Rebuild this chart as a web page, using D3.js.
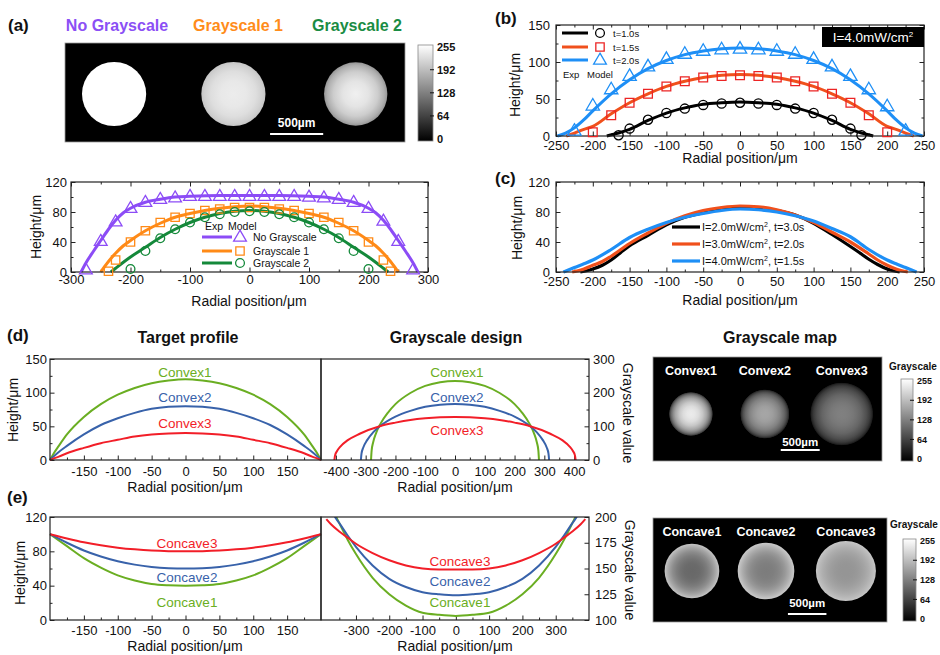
<!DOCTYPE html>
<html>
<head>
<meta charset="utf-8">
<script src="https://cdn.jsdelivr.net/npm/d3@7"></script>
<style>
  body { margin: 0; background: #fff; }
</style>
</head>
<body>
<div id="chart"></div>
<script>
// ---------- (a) measured profiles ----------
const noGrayExpX = [-275,-250,-225,-200,-175,-150,-125,-100,-75,-50,-25,0,25,50,75,100,125,150,175,200,225,250,275];
const noGrayExp = [3,41,67,85,93,97,99,101,101,101,101,101,101,101,101,100,99,97,93,85,68,41,3];
const noGrayModelX = [-283,-275,-262,-250,-237,-225,-212,-200,-175,-150,-125,-100,-50,0,50,100,125,150,175,200,212,225,237,250,262,275,283];
const noGrayModel = [0,12,28,42,57,69,79,85,93,97,100,101,102,102,102,101,100,97,93,85,79,69,57,42,28,12,0];
const gray1ExpX = [-237,-225,-200,-175,-150,-125,-100,-75,-50,-25,0,25,50,75,100,125,150,175,200,225,237];
const gray1Exp = [1,16,40,55,66,73,78,82,84,86,86,86,84,82,78,73,66,55,40,16,1];
const gray1ModelX = [-250,-237,-225,-212,-200,-175,-150,-125,-100,-75,-50,-25,0,25,50,75,100,125,150,175,200,212,225,237,250];
const gray1Model = [0,14,25,35,42,55,65,73,78,82,85,87,88,87,85,82,78,73,65,55,42,35,25,14,0];
const gray2ExpX = [-200,-175,-150,-125,-100,-75,-50,-25,0,25,50,75,100,125,150,175,200];
const gray2Exp = [4,28,45,57,66,73,77,80,81,80,77,73,66,57,45,28,4];
const gray2ModelX = [-233,-225,-212,-200,-175,-150,-125,-100,-75,-50,-25,0,25,50,75,100,125,150,175,200,212,225,233];
const gray2Model = [0,5,13,20,33,46,57,66,73,78,81,82,81,78,73,66,57,46,33,20,13,5,0];
const aXTicks = [-300,-200,-100,0,100,200,300];
const aYTicks = [0,40,80,120];

// (a) grayscale images
const aMapTitles = ['No Grayscale', 'Grayscale 1', 'Grayscale 2'];
const aMapCenterUm = [462, 1585, 2736];
const aMapRadiusUm = [302, 302, 298];
const aMapProfilePos = [0, 0.4, 0.7, 0.9, 1];
const aMapProfileGray = [
  [255,255,255,255,255],
  [236,232,222,208,198],
  [240,228,205,175,150]
];

// ---------- (b) exposure time ----------
const t10ExpX = [-165,-150,-125,-100,-75,-50,-25,0,25,50,75,100,125,150,165];
const t10Exp = [1,10,22,31,37,42,44,45,44,42,37,31,22,10,1];
const t10ModelX = [-181,-165,-150,-125,-100,-75,-50,-25,0,25,50,75,100,125,150,165,181];
const t10Model = [0,4,9,21,31,38,43,45,46,45,43,38,31,21,9,4,0];
const t15ExpX = [-200,-175,-150,-125,-100,-75,-50,-25,0,25,50,75,100,125,150,175,200];
const t15Exp = [5,28,45,57,67,74,79,81,82,81,79,74,67,57,45,28,5];
const t15ModelX = [-236,-225,-212,-200,-175,-150,-125,-100,-75,-50,-25,0,25,50,75,100,125,150,175,200,212,225,236];
const t15Model = [0,4,9,13,30,45,57,67,74,79,82,83,82,79,74,67,57,45,30,13,9,4,0];
const t20ExpX = [-225,-200,-175,-150,-125,-100,-75,-50,-25,0,25,50,75,100,125,150,175,200,225];
const t20Exp = [7,41,63,81,94,104,111,115,117,118,117,115,111,104,94,81,63,40,7];
const t20ModelX = [-248,-237,-225,-212,-200,-175,-150,-125,-100,-75,-50,-25,0,25,50,75,100,125,150,175,200,212,225,237,248];
const t20Model = [0,4,11,22,34,57,76,91,102,110,115,118,119,118,115,110,102,91,76,57,34,22,11,4,0];
const bXTicks = [-250,-200,-150,-100,-50,0,50,100,150,200,250];
const bYTicks = [0,50,100,150];

// ---------- (c) intensity / time ----------
const i2X = [-217,-200,-187,-175,-162,-150,-125,-100,-75,-50,-25,0,25,50,75,100,125,150,162,175,187,200,217];
const i2Y = [0,4,9,16,26,35,49,63,73,79,84,86,85,82,76,65,50,34,26,17,10,4,0];
const i3X = [-228,-212,-200,-187,-175,-150,-125,-100,-75,-50,-25,0,25,50,75,100,125,150,175,187,200,212,228];
const i3Y = [0,4,9,14,21,38,52,65,75,82,86,88,87,83,76,66,53,40,24,16,9,4,0];
const i4X = [-240,-225,-212,-200,-175,-150,-125,-100,-75,-50,-25,0,25,50,75,100,125,150,175,200,212,225,240];
const i4Y = [0,6,11,16,30,46,57,66,73,78,82,84,83,80,75,68,58,47,30,16,11,6,0];
const cYTicks = [0,40,80,120];

// ---------- (d) convex ----------
const targetX = [-200,-195,-187,-175,-150,-125,-100,-75,-50,-25,0,25,50,75,100,125,150,175,187,195,200];
const convex1 = [0,9,21,38,64,83,97,107,114,118,120,118,114,107,97,83,64,38,21,9,0];
const convex2 = [0,5,12,21,38,52,62,70,76,79,80,79,76,70,62,52,38,21,12,5,0];
const convex3 = [0,2,5,10,18,25,30,35,38,39.5,40,39.5,38,35,30,25,18,10,5,2,0];
const design1X = [-282,-280,-275,-265,-250,-225,-200,-150,-100,-50,0,50,100,150,200,225,250,265,275,280,282];
const design1 = [0,28,52,80,108,141,166,199,220,231,235,231,220,199,166,141,108,80,52,28,0];
const design2X = [-316,-314,-308,-295,-275,-250,-200,-150,-100,-50,0,50,100,150,200,250,275,295,308,314,316];
const design2 = [0,19,37,59,82,102,129,146,158,164,166,164,158,146,129,102,82,59,37,19,0];
const design3X = [-405,-403,-396,-385,-360,-320,-250,-200,-150,-100,-50,0,50,100,150,200,250,320,360,385,396,403,405];
const design3 = [0,13,27,40,59,78,101,111,119,124,127,128,127,124,119,111,101,78,59,40,27,13,0];
const convexNames = ['Convex1', 'Convex2', 'Convex3'];
const convexMapCenterUm = [487, 1436, 2423];

// ---------- (e) concave ----------
const concaveX = [-200,-175,-150,-125,-100,-75,-50,-25,0,25,50,75,100,125,150,175,200];
const concave1 = [100,86,72,61,52,46,42,40.5,40,40.5,42,46,52,61,72,86,100];
const concave2 = [100,90,81,74,68.5,64.5,61.8,60.4,60,60.4,61.8,64.5,68.5,74,81,90,100];
const concave3 = [100,95,90.5,87,84.3,82.3,80.9,80.2,80,80.2,80.9,82.3,84.3,87,90.5,95,100];
const cDesign1X = [-368,-359,-350,-325,-300,-250,-200,-150,-100,-50,0,50,100,150,200,250,300,325,350,359,368];
const cDesign1 = [206,200,194,178,164,141,125,114,107,105,104,105,107,114,125,141,164,178,194,200,206];
const cDesign2X = [-368,-359,-350,-325,-300,-250,-200,-150,-100,-50,0,50,100,150,200,250,300,325,350,359,368];
const cDesign2 = [203,198,194,182,171,153,140,132,127,125,124,125,127,132,140,153,171,182,194,198,203];
const cDesign3X = [-389,-375,-350,-325,-300,-250,-200,-150,-100,-50,0,50,100,150,200,250,300,325,350,375,389];
const cDesign3 = [198,193,186,180,174,165,158,153,150,149,149,149,150,153,158,165,174,180,186,193,198];
const concaveNames = ['Concave1', 'Concave2', 'Concave3'];
const concaveMapCenterUm = [506, 1468, 2506];
const concaveMapRadiusUm = [355, 368, 390];

const profileXTicks = [-150,-100,-50,0,50,100,150];
const cbTicks = [0,64,128,192,255];

// ---------- drawing ----------
const FONT = '"Liberation Sans", Arial, Helvetica, sans-serif';
const C = {
  purple: '#8c4cf6', orange: '#ff8a17', green: '#14893a',
  black: '#000', redLine: '#f0501c', redMark: '#ec2424', blue: '#1e8ff6',
  dGreen: '#6aae22', dBlue: '#3862aa', dRed: '#f21e28'
};

const svg = d3.select('#chart').append('svg')
  .attr('width', 940).attr('height', 655)
  .attr('font-family', FONT);
const defs = svg.append('defs');
const grayColor = d3.scaleLinear().domain([0, 255]).range(['#000', '#fff']).clamp(true);

function label(x, y, s, o = {}) {
  const t = svg.append('text').attr('x', x).attr('y', y).text(s)
    .attr('font-size', o.size || 14)
    .attr('fill', o.color || '#111')
    .attr('text-anchor', o.anchor || 'middle')
    .attr('font-weight', o.weight || 'normal');
  if (o.rotate) t.attr('transform', `rotate(${o.rotate},${x},${y})`);
  return t;
}

function axisLayer(g, gen, tx, ty, fs) {
  const a = g.append('g').attr('transform', `translate(${tx},${ty})`).call(gen);
  a.attr('font-family', FONT).attr('font-size', fs);
  a.select('.domain').remove();
  a.selectAll('.tick line').attr('stroke', '#222').attr('stroke-width', 1);
  a.selectAll('.tick text').attr('fill', '#111');
  return a;
}

// framed plot with inward ticks
function drawPlot(o) {
  const x = d3.scaleLinear().domain(o.xDomain).range([o.left, o.right]);
  const y = d3.scaleLinear().domain(o.yDomain).range([o.bottom, o.top]);
  const g = svg.append('g');
  const fmt = d => String(d);
  const specs = [
    ['bottom', d3.axisBottom, x, 0, o.bottom],
    ['top', d3.axisTop, x, 0, o.top],
    ['left', d3.axisLeft, y, o.left, 0],
    ['right', d3.axisRight, y, o.right, 0]
  ];
  specs.forEach(([side, gen, sc, tx, ty]) => {
    if (!o.sides.includes(side)) return;
    const isX = side === 'bottom' || side === 'top';
    const minor = isX ? o.xMinor : o.yMinor;
    const major = isX ? o.xMajor : o.yMajor;
    const labeled = isX ? side === 'bottom' : side === (o.yLabelSide || 'left');
    if (minor) axisLayer(g, gen(sc).tickValues(minor).tickFormat('').tickSizeInner(-2.5).tickSizeOuter(0), tx, ty, 13);
    axisLayer(g, gen(sc).tickValues(major).tickFormat(labeled ? fmt : '')
      .tickSizeInner(-4.5).tickSizeOuter(0).tickPadding(isX ? o.xPad : o.yPad), tx, ty, 13);
  });
  const layer = g.append('g');
  if (o.clip) {
    defs.append('clipPath').attr('id', o.clip).append('rect')
      .attr('x', o.left).attr('y', o.top).attr('width', o.right - o.left).attr('height', o.bottom - o.top);
    layer.attr('clip-path', `url(#${o.clip})`);
  }
  g.append('rect').attr('x', o.left).attr('y', o.top)
    .attr('width', o.right - o.left).attr('height', o.bottom - o.top)
    .attr('fill', 'none').attr('stroke', '#222').attr('stroke-width', 1.2);
  return { x, y, g: layer, top: g };
}

function drawLine(p, xs, ys, color, width) {
  p.g.append('path').datum(d3.zip(xs, ys))
    .attr('fill', 'none').attr('stroke', color).attr('stroke-width', width)
    .attr('stroke-linejoin', 'round')
    .attr('d', d3.line().x(d => p.x(d[0])).y(d => p.y(d[1])).curve(d3.curveMonotoneX));
}

function shapePath(shape, cx, cy, s) {
  if (shape === 'tri') return `M${cx},${cy - s * 0.62}L${cx + s * 0.58},${cy + s * 0.38}L${cx - s * 0.58},${cy + s * 0.38}Z`;
  if (shape === 'sq') return `M${cx - s * 0.38},${cy - s * 0.38}h${s * 0.76}v${s * 0.76}h${-s * 0.76}Z`;
  const pth = d3.path(); pth.arc(cx, cy, s * 0.4, 0, 2 * Math.PI); return pth.toString();
}

function drawMarkers(p, xs, ys, shape, color, s) {
  p.top.append('g').selectAll('path').data(d3.zip(xs, ys)).join('path')
    .attr('d', d => shapePath(shape, p.x(d[0]), p.y(d[1]), s))
    .attr('fill', 'none').attr('stroke', color).attr('stroke-width', 1.3);
}

function legendMarker(shape, cx, cy, s, color) {
  svg.append('path').attr('d', shapePath(shape, cx, cy, s))
    .attr('fill', 'none').attr('stroke', color).attr('stroke-width', 1.3);
}
function legendLine(x1, x2, y, color, w) {
  svg.append('line').attr('x1', x1).attr('x2', x2).attr('y1', y).attr('y2', y)
    .attr('stroke', color).attr('stroke-width', w);
}

// vertical grayscale colorbar
const cbGrad = defs.append('linearGradient').attr('id', 'cbGrad')
  .attr('x1', 0).attr('y1', 1).attr('x2', 0).attr('y2', 0);
cbGrad.append('stop').attr('offset', 0).attr('stop-color', grayColor(0));
cbGrad.append('stop').attr('offset', 1).attr('stop-color', grayColor(255));

function colorbar(x, yTop, w, yBot, inset, fs, labelX) {
  svg.append('rect').attr('x', x).attr('y', yTop).attr('width', w).attr('height', yBot - yTop)
    .attr('fill', 'url(#cbGrad)').attr('stroke', '#888').attr('stroke-width', 0.8);
  const s = d3.scaleLinear().domain([0, 255]).range([yBot - inset, yTop + inset]);
  svg.append('g').selectAll('line').data(cbTicks.slice(1, 4)).join('line')
    .attr('x1', x + w - 3).attr('x2', x + w + 1).attr('y1', s).attr('y2', s)
    .attr('stroke', '#111').attr('stroke-width', 1);
  svg.append('g').selectAll('text').data(cbTicks).join('text')
    .attr('x', labelX).attr('y', s).attr('dy', '0.35em')
    .attr('font-size', fs).attr('font-weight', 'bold').attr('fill', '#111')
    .text(d => d);
}

function radialGrad(id, pos, vals) {
  const gr = defs.append('radialGradient').attr('id', id);
  pos.forEach((p, i) => gr.append('stop').attr('offset', Math.min(1, p)).attr('stop-color', grayColor(vals[i])));
}

// ======== (a) ========
label(8, 31, '(a)', { size: 17, weight: 'bold', anchor: 'start' });
const aTitleColors = ['#8b4ff5', '#ff8c1a', '#1a8c44'];
const aTitleX = [117, 238, 357];
aMapTitles.forEach((t, i) => label(aTitleX[i], 31, t, { size: 16, weight: 'bold', color: aTitleColors[i] }));

const aImg = { left: 65, right: 405, top: 43, bottom: 142 };
svg.append('rect').attr('x', aImg.left).attr('y', aImg.top)
  .attr('width', aImg.right - aImg.left).attr('height', aImg.bottom - aImg.top)
  .attr('fill', '#000').attr('stroke', '#999').attr('stroke-width', 0.8);
const aUm = d3.scaleLinear().domain([0, 3200]).range([aImg.left, aImg.right]);
const aPx = aUm(1) - aUm(0);
aMapCenterUm.forEach((c, i) => {
  radialGrad('aG' + i, aMapProfilePos, aMapProfileGray[i]);
  svg.append('circle').attr('cx', aUm(c)).attr('cy', 94).attr('r', aMapRadiusUm[i] * aPx)
    .attr('fill', `url(#aG${i})`);
});
svg.append('line').attr('x1', aUm(1930)).attr('x2', aUm(2430)).attr('y1', 134).attr('y2', 134)
  .attr('stroke', '#fff').attr('stroke-width', 2.2);
label(aUm(2180), 127, '500µm', { size: 12, weight: 'bold', color: '#fff' });
colorbar(418, 45, 15, 141, 2, 11, 437);

const pa = drawPlot({
  left: 71, right: 428, top: 182, bottom: 272,
  xDomain: [-300, 300], yDomain: [0, 120],
  xMajor: aXTicks, xMinor: d3.range(-250, 300, 100),
  yMajor: aYTicks, yMinor: [20, 60, 100],
  sides: ['bottom', 'top', 'left', 'right'], xPad: 3, yPad: 4
});
drawLine(pa, noGrayModelX, noGrayModel, C.purple, 3);
drawLine(pa, gray1ModelX, gray1Model, C.orange, 3);
drawLine(pa, gray2ModelX, gray2Model, C.green, 3);
drawMarkers(pa, noGrayExpX, noGrayExp, 'tri', C.purple, 11);
drawMarkers(pa, gray1ExpX, gray1Exp, 'sq', C.orange, 11);
drawMarkers(pa, gray2ExpX, gray2Exp, 'circ', C.green, 11);
label(249, 306, 'Radial position/μm');
label(41, 227, 'Height/μm', { rotate: -90 });
label(205, 230, 'Exp', { size: 10.5, anchor: 'start' });
label(228, 230, 'Model', { size: 10.5, anchor: 'start' });
[['No Grayscale', C.purple, 'tri', 237], ['Grayscale 1', C.orange, 'sq', 251], ['Grayscale 2', C.green, 'circ', 263]]
  .forEach(([t, c, s, yy]) => {
    legendLine(202, 232, yy, c, 3);
    legendMarker(s, 240, yy, 11, c);
    label(253, yy + 4, t, { size: 10.5, anchor: 'start' });
  });

// ======== (b) ========
label(495, 24, '(b)', { size: 17, weight: 'bold', anchor: 'start' });
const pb = drawPlot({
  left: 556, right: 924, top: 25, bottom: 136,
  xDomain: [-250, 250], yDomain: [0, 150],
  xMajor: bXTicks, xMinor: d3.range(-225, 250, 50),
  yMajor: bYTicks, yMinor: [25, 75, 125],
  sides: ['bottom', 'top', 'left', 'right'], xPad: 5, yPad: 6
});
drawLine(pb, t10ModelX, t10Model, C.black, 3);
drawLine(pb, t15ModelX, t15Model, C.redLine, 3);
drawLine(pb, t20ModelX, t20Model, C.blue, 3);
drawMarkers(pb, t10ExpX, t10Exp, 'circ', C.black, 11.5);
drawMarkers(pb, t15ExpX, t15Exp, 'sq', C.redMark, 11.5);
drawMarkers(pb, t20ExpX, t20Exp, 'tri', C.blue, 11.5);
[['t=1.0s', C.black, C.black, 'circ', 33], ['t=1.5s', C.redLine, C.redMark, 'sq', 47], ['t=2.0s', C.blue, C.blue, 'tri', 60]]
  .forEach(([t, lc, mc, s, yy]) => {
    legendLine(562, 588, yy, lc, 3);
    legendMarker(s, 600, yy, 11, mc);
    label(613, yy + 3.5, t, { size: 9.5, anchor: 'start' });
  });
label(563, 78, 'Exp', { size: 9.5, anchor: 'start' });
label(587, 78, 'Model', { size: 9.5, anchor: 'start' });
svg.append('rect').attr('x', 822).attr('y', 27).attr('width', 102).attr('height', 20).attr('fill', '#000');
const boxT = label(873, 42, 'I=4.0mW/cm', { size: 13.5, color: '#fff' });
boxT.append('tspan').attr('dy', -5).attr('font-size', 8).text('2');
label(740, 163, 'Radial position/μm');
label(520, 85, 'Height/μm', { rotate: -90 });

// ======== (c) ========
label(495, 184, '(c)', { size: 17, weight: 'bold', anchor: 'start' });
const pc = drawPlot({
  left: 556, right: 924, top: 182, bottom: 272,
  xDomain: [-250, 250], yDomain: [0, 120],
  xMajor: bXTicks, xMinor: d3.range(-225, 250, 50),
  yMajor: cYTicks, yMinor: [20, 60, 100],
  sides: ['bottom', 'top', 'left', 'right'], xPad: 5, yPad: 6
});
drawLine(pc, i2X, i2Y, C.black, 3.2);
drawLine(pc, i3X, i3Y, C.redLine, 3.2);
drawLine(pc, i4X, i4Y, C.blue, 3.2);
[['2.0', '3.0', C.black, 227], ['3.0', '2.0', C.redLine, 244], ['4.0', '1.5', C.blue, 261]]
  .forEach(([i, t, c, yy]) => {
    legendLine(672, 700, yy, c, 3.2);
    const tt = label(702, yy + 4, `I=${i}mW/cm`, { size: 11, anchor: 'start' });
    tt.append('tspan').attr('dy', -4).attr('font-size', 7).text('2');
    tt.append('tspan').attr('dy', 4).text(`, t=${t}s`);
  });
label(740, 305, 'Radial position/μm');
label(522, 228, 'Height/μm', { rotate: -90 });

// ======== (d) ========
label(7, 341, '(d)', { size: 17, weight: 'bold', anchor: 'start' });
label(188, 343, 'Target profile', { size: 16, weight: 'bold' });
label(456, 343, 'Grayscale design', { size: 16, weight: 'bold' });
label(780, 343, 'Grayscale map', { size: 16, weight: 'bold' });

const pdl = drawPlot({
  left: 50, right: 321, top: 359, bottom: 460,
  xDomain: [-200, 200], yDomain: [0, 150],
  xMajor: profileXTicks, xMinor: d3.range(-175, 200, 50),
  yMajor: [0, 50, 100, 150], yMinor: [25, 75, 125],
  sides: ['bottom', 'left'], xPad: 7, yPad: 3
});
drawLine(pdl, targetX, convex1, C.dGreen, 2);
drawLine(pdl, targetX, convex2, C.dBlue, 2);
drawLine(pdl, targetX, convex3, C.dRed, 2);
const pdr = drawPlot({
  left: 321, right: 589, top: 359, bottom: 460,
  xDomain: [-450, 450], yDomain: [0, 300],
  xMajor: [-400, -300, -200, -100, 0, 100, 200, 300, 400], xMinor: d3.range(-350, 400, 100),
  yMajor: [0, 100, 200, 300], yMinor: [50, 150, 250], yLabelSide: 'right',
  sides: ['bottom', 'right'], xPad: 7, yPad: 4, clip: 'clipD'
});
drawLine(pdr, design1X, design1, C.dGreen, 2);
drawLine(pdr, design2X, design2, C.dBlue, 2);
drawLine(pdr, design3X, design3, C.dRed, 2);
const dCols = [C.dGreen, C.dBlue, C.dRed];
[377, 402, 428].forEach((yy, i) => label(185, yy, convexNames[i], { size: 13.5, color: dCols[i] }));
[377, 402, 435].forEach((yy, i) => label(457, yy, convexNames[i], { size: 13.5, color: dCols[i] }));
label(185, 492, 'Radial position/μm');
label(455, 492, 'Radial position/μm');
label(18, 410, 'Height/μm', { rotate: -90 });
label(623, 413, 'Grayscale value', { rotate: 90 });

// convex grayscale map
const dImg = { left: 653, right: 882, top: 357, bottom: 461 };
svg.append('rect').attr('x', dImg.left).attr('y', dImg.top)
  .attr('width', dImg.right - dImg.left).attr('height', dImg.bottom - dImg.top)
  .attr('fill', '#000').attr('stroke', '#999').attr('stroke-width', 0.8);
const dUm = d3.scaleLinear().domain([0, 2940]).range([dImg.left, dImg.right]);
const dPx = dUm(1) - dUm(0);
[[design1X, design1], [design2X, design2], [design3X, design3]].forEach(([xs, vs], i) => {
  const r = d3.max(xs);
  const half = d3.zip(xs, vs).filter(d => d[0] >= 0);
  radialGrad('dG' + i, half.map(d => d[0] / r), half.map(d => d[1]));
  svg.append('circle').attr('cx', dUm(convexMapCenterUm[i])).attr('cy', 414).attr('r', r * dPx)
    .attr('fill', `url(#dG${i})`);
  label(dUm(convexMapCenterUm[i]), 375, convexNames[i], { size: 12.5, weight: 'bold', color: '#fff' });
});
svg.append('line').attr('x1', dUm(1640)).attr('x2', dUm(2140)).attr('y1', 450).attr('y2', 450)
  .attr('stroke', '#fff').attr('stroke-width', 2);
label(dUm(1890), 446, '500µm', { size: 11.5, weight: 'bold', color: '#fff' });
label(913, 370, 'Grayscale', { size: 10, weight: 'bold' });
colorbar(901, 379, 12, 461, 2, 9, 917);

// ======== (e) ========
label(7, 503, '(e)', { size: 17, weight: 'bold', anchor: 'start' });
const pel = drawPlot({
  left: 50, right: 321, top: 517, bottom: 620,
  xDomain: [-200, 200], yDomain: [0, 120],
  xMajor: profileXTicks, xMinor: d3.range(-175, 200, 50),
  yMajor: [0, 40, 80, 120], yMinor: [20, 60, 100],
  sides: ['bottom', 'left'], xPad: 6, yPad: 3
});
drawLine(pel, concaveX, concave1, C.dGreen, 2);
drawLine(pel, concaveX, concave2, C.dBlue, 2);
drawLine(pel, concaveX, concave3, C.dRed, 2);
const per = drawPlot({
  left: 321, right: 589, top: 517, bottom: 620,
  xDomain: [-405, 400], yDomain: [100, 200],
  xMajor: [-300, -200, -100, 0, 100, 200, 300], xMinor: d3.range(-350, 400, 100),
  yMajor: [100, 125, 150, 175, 200], yLabelSide: 'right',
  sides: ['bottom', 'right'], xPad: 6, yPad: 6, clip: 'clipE'
});
drawLine(per, cDesign1X, cDesign1, C.dGreen, 2);
drawLine(per, cDesign2X, cDesign2, C.dBlue, 2);
drawLine(per, cDesign3X, cDesign3, C.dRed, 2);
[607, 582, 548].forEach((yy, i) => label(187, yy, concaveNames[i], { size: 13.5, color: dCols[i] }));
[607, 586, 566].forEach((yy, i) => label(460, yy, concaveNames[i], { size: 13.5, color: dCols[i] }));
label(185, 651, 'Radial position/μm');
label(455, 651, 'Radial position/μm');
label(25, 573, 'Height/μm', { rotate: -90 });
label(625, 570, 'Grayscale value', { rotate: 90 });

// concave grayscale map
const eImg = { left: 653, right: 887, top: 518, bottom: 622 };
svg.append('rect').attr('x', eImg.left).attr('y', eImg.top)
  .attr('width', eImg.right - eImg.left).attr('height', eImg.bottom - eImg.top)
  .attr('fill', '#000').attr('stroke', '#999').attr('stroke-width', 0.8);
const eUm = d3.scaleLinear().domain([0, 3040]).range([eImg.left, eImg.right]);
const ePx = eUm(1) - eUm(0);
[[cDesign1X, cDesign1], [cDesign2X, cDesign2], [cDesign3X, cDesign3]].forEach(([xs, vs], i) => {
  const r = concaveMapRadiusUm[i];
  const half = d3.zip(xs, vs).filter(d => d[0] >= 0);
  radialGrad('eG' + i, half.map(d => d[0] / r), half.map(d => d[1]));
  svg.append('circle').attr('cx', eUm(concaveMapCenterUm[i])).attr('cy', 571).attr('r', r * ePx)
    .attr('fill', `url(#eG${i})`);
  label(eUm(concaveMapCenterUm[i]), 536, concaveNames[i], { size: 12.5, weight: 'bold', color: '#fff' });
});
svg.append('line').attr('x1', eUm(1753)).attr('x2', eUm(2253)).attr('y1', 614).attr('y2', 614)
  .attr('stroke', '#fff').attr('stroke-width', 2);
label(eUm(2003), 607, '500µm', { size: 11.5, weight: 'bold', color: '#fff' });
label(914, 528, 'Grayscale', { size: 10, weight: 'bold' });
colorbar(903, 539, 13, 621, 2, 9, 920);
</script>
</body>
</html>
